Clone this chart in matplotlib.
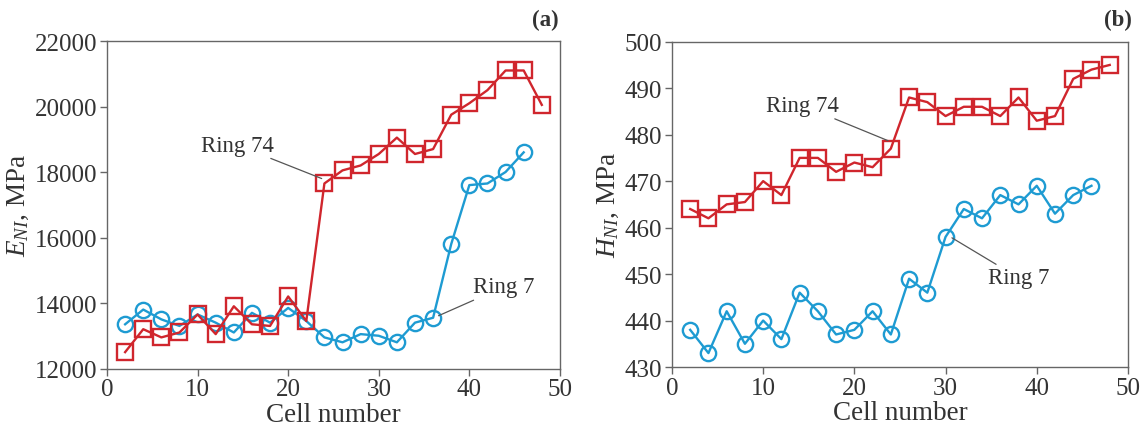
import matplotlib
matplotlib.use("Agg")
import matplotlib.pyplot as plt

plt.rcParams['font.family'] = ['Liberation Serif', 'DejaVu Serif']
plt.rcParams['mathtext.fontset'] = 'custom'
plt.rcParams['mathtext.rm'] = 'Liberation Serif'
plt.rcParams['mathtext.it'] = 'Liberation Serif:italic'

# ---- data ----
cells_74 = list(range(2, 49, 2))
cells_7 = list(range(2, 47, 2))

E_ring74 = [12500, 13200, 12950, 13100, 13650, 13050, 13900, 13350, 13300, 14200,
            13450, 17650, 18050, 18200, 18550, 19050, 18550, 18700, 19750, 20100,
            20500, 21100, 21100, 20050]
E_ring7 = [13350, 13800, 13500, 13300, 13650, 13400, 13100, 13700, 13400, 13850,
           13450, 12950, 12800, 13050, 13000, 12800, 13400, 13550, 15800, 17600,
           17650, 18000, 18600]

H_ring74 = [464, 462, 465, 465.5, 470, 467, 475, 475, 472, 474, 473, 477, 488, 487,
            484, 486, 486, 484, 488, 483, 484, 492, 494, 495]
H_ring7 = [438, 433, 442, 435, 440, 436, 446, 442, 437, 438, 442, 437, 449, 446,
           458, 464, 462, 467, 465, 469, 463, 467, 469]

x_ticks = [0, 10, 20, 30, 40, 50]
E_ticks = [12000, 14000, 16000, 18000, 20000, 22000]
H_ticks = [430, 440, 450, 460, 470, 480, 490, 500]

RED = '#d0262d'
BLUE = '#1e9bd2'
TXT = '#333333'
SPINE = '#666666'
FS_TICK = 18
FS_LAB = 19.5
FS_ANN = 16.5

fig = plt.figure(figsize=(11.42, 4.39), dpi=100)
axA = fig.add_axes([0.0937, 0.1583, 0.3966, 0.746])
axB = fig.add_axes([0.5884, 0.1617, 0.3993, 0.741])

def style(ax):
    for s in ax.spines.values():
        s.set_color(SPINE)
        s.set_linewidth(1.0)
    ax.tick_params(direction='out', length=5, width=1.0, color=SPINE,
                   labelsize=FS_TICK, labelcolor=TXT, top=False, right=False, pad=2)

sq = dict(marker='s', markersize=11.5, markerfacecolor='none', markeredgewidth=1.7, linewidth=1.7)
ci = dict(marker='o', markersize=11, markerfacecolor='none', markeredgewidth=1.7, linewidth=1.7)
leader = dict(arrowstyle='-', color='#555555', lw=0.9, shrinkA=0, shrinkB=0)

# panel (a)
axA.plot(cells_7, E_ring7, color=BLUE, **ci)
axA.plot(cells_74, E_ring74, color=RED, **sq)
axA.set_xlim(0, 50)
axA.set_ylim(12000, 22000)
axA.set_xticks(x_ticks)
axA.set_yticks(E_ticks)
axA.set_xlabel('Cell number', fontsize=FS_LAB, color=TXT, labelpad=1)
axA.set_ylabel('$E_{NI}$, MPa', fontsize=FS_LAB, color=TXT, labelpad=3)
style(axA)
axA.annotate('Ring 74', xy=(23.7, 17800), xytext=(18.4, 18500), fontsize=FS_ANN, color=TXT,
             ha='right', va='bottom', arrowprops=leader)
axA.annotate('Ring 7', xy=(36.6, 13612), xytext=(40.4, 14170), fontsize=FS_ANN, color=TXT,
             ha='left', va='bottom', arrowprops=leader)

# panel (b)
axB.plot(cells_7, H_ring7, color=BLUE, **ci)
axB.plot(cells_74, H_ring74, color=RED, **sq)
axB.set_xlim(0, 50)
axB.set_ylim(430, 500)
axB.set_xticks(x_ticks)
axB.set_yticks(H_ticks)
axB.set_xlabel('Cell number', fontsize=FS_LAB, color=TXT, labelpad=1)
axB.set_ylabel('$H_{NI}$, MPa', fontsize=FS_LAB, color=TXT, labelpad=3)
style(axB)
axB.annotate('Ring 74', xy=(23.7, 478.7), xytext=(18.3, 484.0), fontsize=FS_ANN, color=TXT,
             ha='right', va='bottom', arrowprops=leader)
axB.annotate('Ring 7', xy=(30.7, 457.8), xytext=(34.6, 451.5), fontsize=FS_ANN, color=TXT,
             ha='left', va='top', arrowprops=leader)

fig.text(545 / 1142, 1 - 20 / 439, '(a)', fontsize=FS_ANN, fontweight='bold', color=TXT,
         ha='center', va='center')
fig.text(1118 / 1142, 1 - 20 / 439, '(b)', fontsize=FS_ANN, fontweight='bold', color=TXT,
         ha='center', va='center')

fig.savefig('out.png', dpi=100)
